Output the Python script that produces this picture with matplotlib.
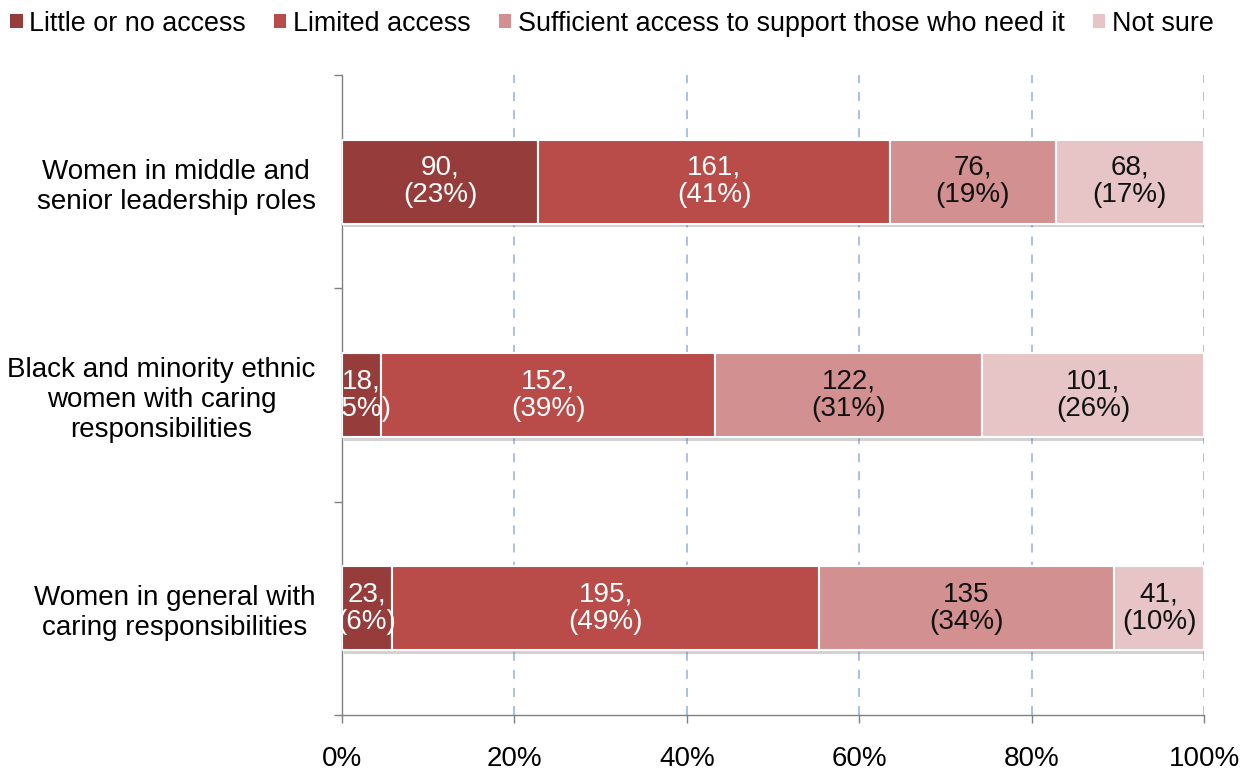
import numpy as np
import matplotlib
matplotlib.use("Agg")
import matplotlib.pyplot as plt
from matplotlib.patches import Patch
import matplotlib.patheffects as pe

plt.rcParams["font.family"] = ["Liberation Sans", "DejaVu Sans"]

categories = [
    "Women in middle and\nsenior leadership roles",
    "Black and minority ethnic\nwomen with caring\nresponsibilities",
    "Women in general with\ncaring responsibilities",
]
series = ["Little or no access", "Limited access",
          "Sufficient access to support those who need it", "Not sure"]
# counts per category (rows) and series (cols)
counts = np.array([
    [90, 161, 76, 68],
    [18, 152, 122, 101],
    [23, 195, 135, 41],
])
# label separators after the count (one label has no comma)
seps = [
    [",", ",", ",", ","],
    [",", ",", ",", ","],
    [",", ",", "", ","],
]
colors = ["#963D3B", "#B94C48", "#D39090", "#E7C4C5"]
text_colors = ["white", "white", "#111111", "#111111"]

fig = plt.figure(figsize=(12.53, 7.71), dpi=100)
ax = fig.add_axes([0.2729, 0.0726, 0.688, 0.8301])

totals = counts.sum(axis=1)
shares = counts / totals[:, None]
ypos = np.arange(len(categories))

shadow = [pe.SimplePatchShadow(offset=(1.5, -2.5), shadow_rgbFace="#808080", alpha=0.35),
          pe.Normal()]
left = np.zeros(len(categories))
for j in range(len(series)):
    ax.barh(ypos, shares[:, j], left=left, height=0.395, color=colors[j],
            edgecolor="white", linewidth=1.5, zorder=3, path_effects=shadow)
    for i in range(len(categories)):
        pct = int(round(100 * shares[i, j]))
        ax.text(left[i] + shares[i, j] / 2, ypos[i],
                f"{counts[i, j]}{seps[i][j]}\n({pct}%)",
                ha="center", va="center", fontsize=20, color=text_colors[j],
                linespacing=1.08, zorder=4)
    left += shares[:, j]

ax.set_xlim(0, 1)
ax.set_ylim(len(categories) - 0.5, -0.5)
ax.set_xticks(np.linspace(0, 1, 6))
ax.set_xticklabels([f"{int(v)}%" for v in np.linspace(0, 100, 6)])
ax.tick_params(axis="x", direction="out", length=6, width=1, color="#808080",
               labelsize=20, pad=16)

ax.set_yticks(np.arange(-0.5, len(categories), 1.0))
ax.set_yticklabels([])
ax.set_yticks(ypos, minor=True)
ax.set_yticklabels(categories, minor=True, fontsize=20, ha="right",
                   multialignment="center")
ax.tick_params(axis="y", which="major", direction="out", length=6, width=1,
               color="#808080")
ax.tick_params(axis="y", which="minor", length=0, pad=19)

ax.xaxis.grid(True, linestyle=(0, (5, 5)), color="#A4BCE0", linewidth=1.3, zorder=0)
ax.set_axisbelow(True)
for s in ["top", "right"]:
    ax.spines[s].set_visible(False)
for s in ["left", "bottom"]:
    ax.spines[s].set_color("#808080")
    ax.spines[s].set_linewidth(1)

handles = [Patch(facecolor=c, edgecolor="none") for c in colors]
fig.legend(handles, series, loc="upper left", bbox_to_anchor=(0.004, 0.993),
           ncol=4, frameon=False, fontsize=19.4, handlelength=0.45,
           handleheight=0.45, handletextpad=0.25, columnspacing=1.05,
           borderpad=0.2, borderaxespad=0)

fig.savefig("out.png", dpi=100)
